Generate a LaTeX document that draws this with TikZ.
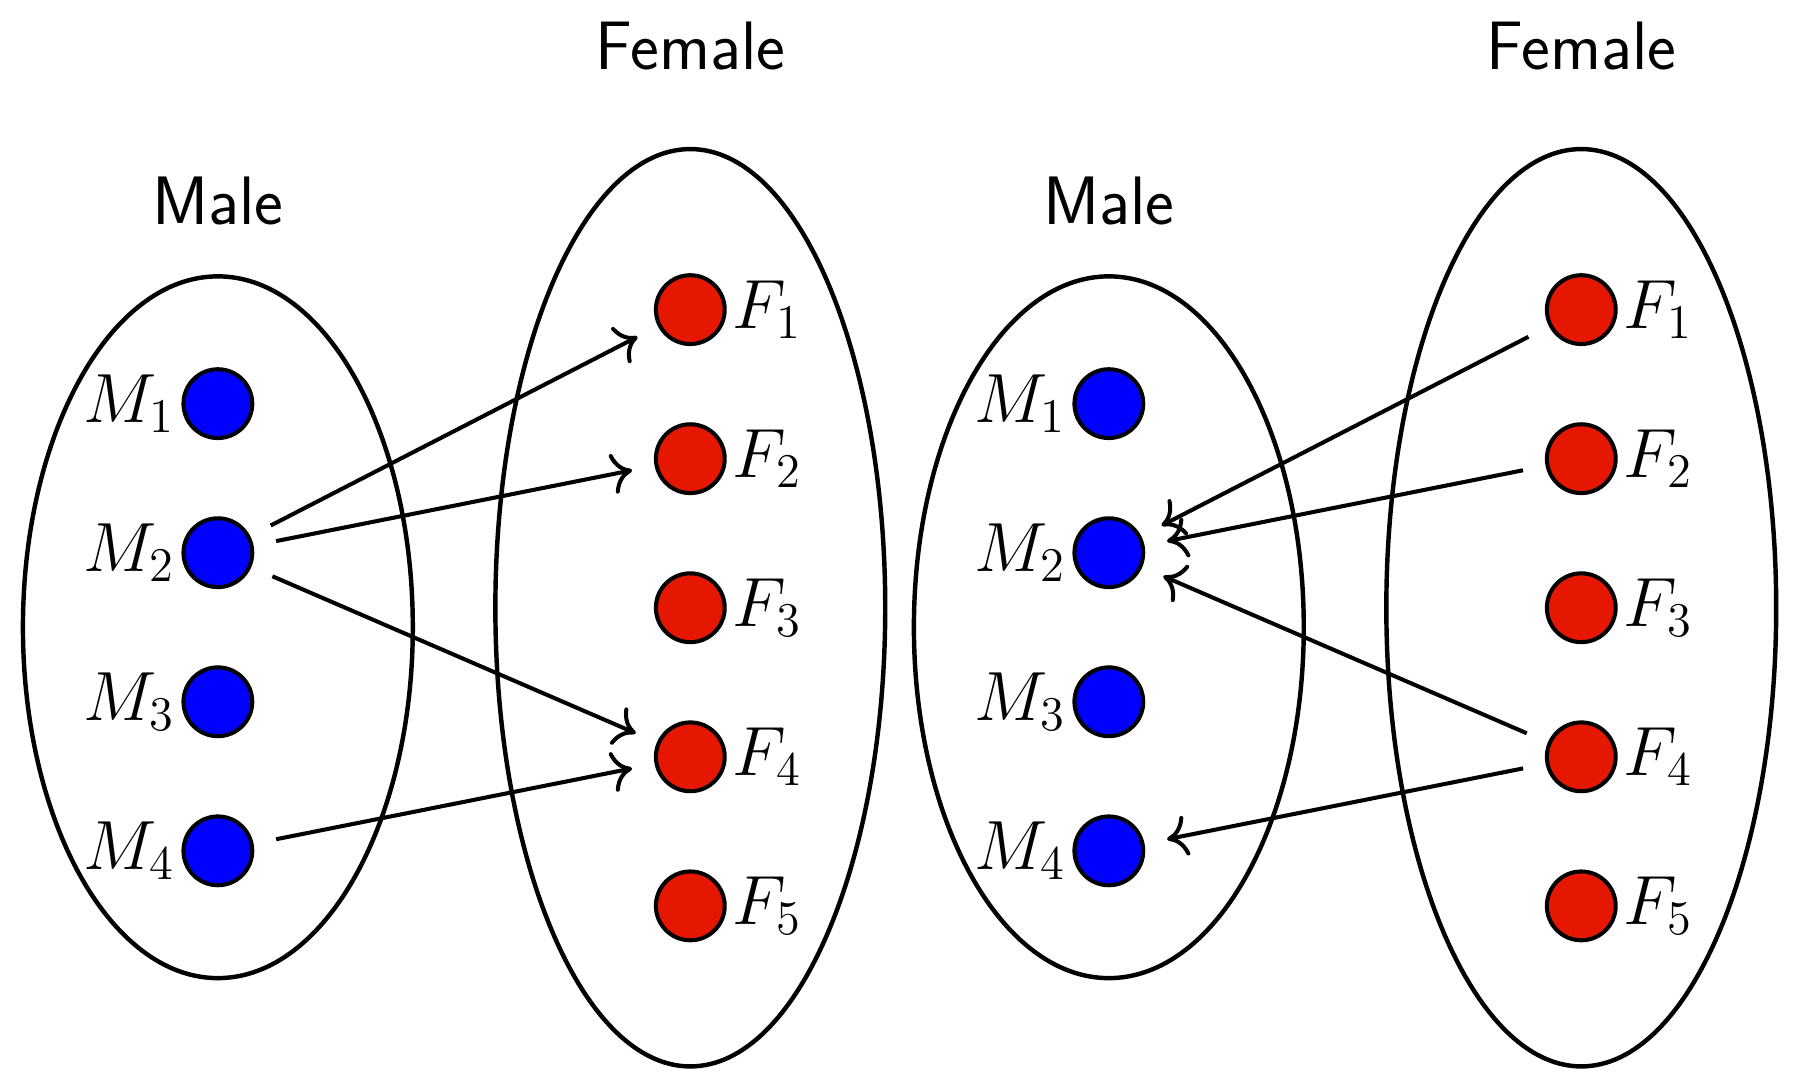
\documentclass[tikz,border=0pt]{standalone}
\usetikzlibrary{arrows.meta}
\begin{document}
\begin{tikzpicture}[x=0.01cm,y=-0.01cm,line width=1pt,
  set/.style={draw,ellipse,line width=1.1pt},
  m/.style={circle,draw,fill=blue,minimum size=0.6cm,inner sep=0pt,line width=1pt},
  f/.style={circle,draw,fill=red!80!orange!90!black,minimum size=0.6cm,inner sep=0pt,line width=1pt},
  lab/.style={font=\fontsize{17}{20}\selectfont},
  ttl/.style={font=\sffamily\fontsize{17}{20}\selectfont},
  arr/.style={-{To[length=5pt,width=10pt]},shorten <=0.2cm,shorten >=0.2cm}]
\useasboundingbox (0,0) rectangle (1568,945);
\foreach \o/\s in {0/a,777/b}{
  \draw[line width=1.1pt] (190+\o,547) ellipse [x radius=170,y radius=306];
  \draw[line width=1.1pt] (602+\o,530) ellipse [x radius=170,y radius=400];
  \node[ttl] (male\s) at (190+\o,175) {Male};
  \node[ttl] (female\s) at (602+\o,40) {Female};
  \foreach \i/\y in {1/352,2/482,3/612,4/742}{
    \node[m,label={[lab,inner sep=1pt]left:$M_\i$}] (M\i\s) at (190+\o,\y) {};}
  \foreach \i/\y in {1/270,2/400,3/530,4/660,5/790}{
    \node[f,label={[lab,inner sep=1pt]right:$F_\i$}] (F\i\s) at (602+\o,\y) {};}
}
\draw[arr] (M2a) -- (F1a);
\draw[arr] (M2a) -- (F2a);
\draw[arr] (M2a) -- (F4a);
\draw[arr] (M4a) -- (F4a);
\draw[arr] (F1b) -- (M2b);
\draw[arr] (F2b) -- (M2b);
\draw[arr] (F4b) -- (M2b);
\draw[arr] (F4b) -- (M4b);
\end{tikzpicture}
\end{document}
